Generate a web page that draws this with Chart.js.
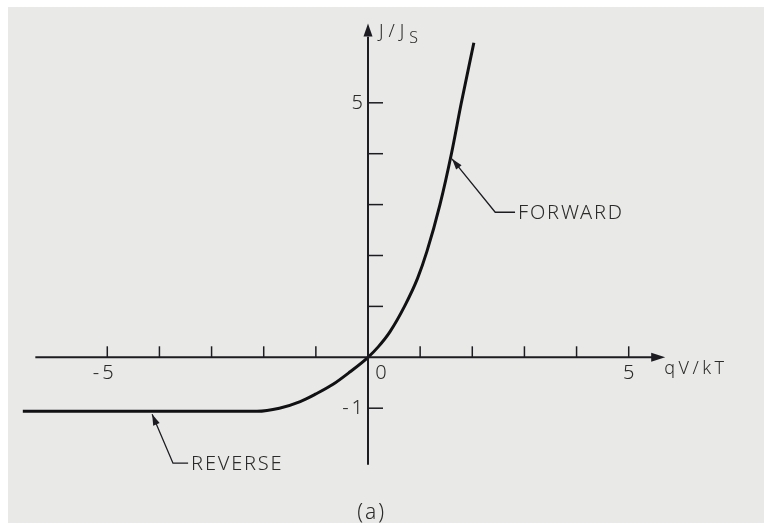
<!DOCTYPE html>
<html>
<head>
<meta charset="utf-8">
<script src="https://cdn.jsdelivr.net/npm/chart.js@4"></script>
<style>
  html, body { margin: 0; padding: 0; background: #ffffff; }
  #wrap { position: relative; width: 764px; height: 523px; }
</style>
</head>
<body>
<div id="wrap"><canvas id="stage"></canvas></div>
<script>
// diode curve J/Js against qV/kT
const qV = [-6.62, -4.5, -2.13, -1.7, -1.3, -1.0, -0.67, -0.35, 0, 0.2, 0.42, 0.71, 0.95, 1.13, 1.38, 1.6, 1.79, 2.03];
const jRatio = [-1.06, -1.06, -1.06, -1.0, -0.87, -0.72, -0.53, -0.29, 0, 0.21, 0.5, 1.02, 1.55, 2.08, 3.0, 4.0, 5.0, 6.18];

// tick marks and the few labelled ones
const xTicks = [-5, -4, -3, -2, -1, 1, 2, 3, 4, 5];
const yTicks = [-1, 1, 2, 3, 4, 5];
const xTickLabels = [['-5', -5], ['0', 0.25], ['5', 5]];
const yTickLabels = [['5', 5], ['-1', -1]];

const ink = '#1c1c22';
const textInk = '#2b2b2b';
const family = '"Noto Sans", "DejaVu Sans", sans-serif';

function setFont(ctx, size, spacing) {
  ctx.font = '300 ' + size + 'px ' + family;
  ctx.letterSpacing = (spacing || 0) + 'px';
}

function arrowHead(ctx, x1, y1, x2, y2, len, half) {
  // filled triangle pointing from (x1,y1) to (x2,y2)
  var a = Math.atan2(y2 - y1, x2 - x1);
  ctx.beginPath();
  ctx.moveTo(x2, y2);
  ctx.lineTo(x2 - len * Math.cos(a) + half * Math.sin(a), y2 - len * Math.sin(a) - half * Math.cos(a));
  ctx.lineTo(x2 - len * Math.cos(a) - half * Math.sin(a), y2 - len * Math.sin(a) + half * Math.cos(a));
  ctx.closePath();
  ctx.fill();
}

// paper background
const paper = {
  id: 'paper',
  beforeDraw(chart) {
    var ctx = chart.ctx;
    ctx.save();
    ctx.fillStyle = '#ffffff';
    ctx.fillRect(0, 0, chart.width, chart.height);
    ctx.fillStyle = '#e9e9e7';
    ctx.fillRect(8, 7, chart.width - 8, chart.height - 7);
    ctx.restore();
  }
};

// axes through the origin, ticks, labels, callouts
const crossAxes = {
  id: 'crossAxes',
  afterDatasetsDraw(chart) {
    var ctx = chart.ctx;
    var xs = chart.scales.x, ys = chart.scales.y;
    var x0 = xs.getPixelForValue(0), y0 = ys.getPixelForValue(0);
    ctx.save();
    ctx.strokeStyle = ink;
    ctx.fillStyle = ink;

    // x axis
    ctx.lineWidth = 2;
    ctx.beginPath();
    ctx.moveTo(xs.getPixelForValue(-6.38), y0);
    ctx.lineTo(xs.getPixelForValue(5.5), y0);
    ctx.stroke();
    arrowHead(ctx, x0, y0, xs.getPixelForValue(5.7), y0, 14, 4.5);

    // y axis
    ctx.beginPath();
    ctx.moveTo(x0, ys.getPixelForValue(-2.11));
    ctx.lineTo(x0, ys.getPixelForValue(6.3));
    ctx.stroke();
    arrowHead(ctx, x0, y0, x0, ys.getPixelForValue(6.56), 13, 4.5);

    // tick marks
    ctx.lineWidth = 1.5;
    xTicks.forEach(function(v) {
      var px = xs.getPixelForValue(v);
      ctx.beginPath();
      ctx.moveTo(px, y0);
      ctx.lineTo(px, y0 - 11);
      ctx.stroke();
    });
    yTicks.forEach(function(v) {
      var py = ys.getPixelForValue(v);
      ctx.beginPath();
      ctx.moveTo(x0, py);
      ctx.lineTo(x0 + 15, py);
      ctx.stroke();
    });

    // tick labels
    ctx.fillStyle = textInk;
    ctx.textBaseline = 'middle';
    ctx.textAlign = 'center';
    setFont(ctx, 20, 3);
    xTickLabels.forEach(function(t) {
      var px = xs.getPixelForValue(t[1]);
      if (t[0] == '-5') px -= 4;
      ctx.fillText(t[0], px + 1.5, y0 + 16);
    });
    ctx.textAlign = 'right';
    yTickLabels.forEach(function(t) {
      ctx.fillText(t[0], x0 - 2, ys.getPixelForValue(t[1]));
    });

    // axis titles
    ctx.textAlign = 'left';
    setFont(ctx, 18, 3.5);
    ctx.fillText('qV/kT', xs.getPixelForValue(5.68), y0 + 12);
    var ty = ys.getPixelForValue(6.4);
    setFont(ctx, 18, 5);
    ctx.fillText('J/J', x0 + 11, ty);
    var w = ctx.measureText('J/J').width;
    setFont(ctx, 16, 0);
    ctx.fillText('S', x0 + 11 + w, ty + 7);

    // callouts: tip, elbow, end of the short horizontal
    var callouts = [
      { text: 'FORWARD', tip: [1.61, 3.9], elbow: [2.44, 2.85], end: [2.82, 2.85] },
      { text: 'REVERSE', tip: [-4.14, -1.12], elbow: [-3.74, -2.08], end: [-3.45, -2.08] }
    ];
    ctx.lineWidth = 1.3;
    ctx.strokeStyle = ink;
    setFont(ctx, 20, 1.8);
    callouts.forEach(function(c) {
      var tx = xs.getPixelForValue(c.tip[0]), ty = ys.getPixelForValue(c.tip[1]);
      var ex = xs.getPixelForValue(c.elbow[0]), ey = ys.getPixelForValue(c.elbow[1]);
      var hx = xs.getPixelForValue(c.end[0]);
      ctx.fillStyle = ink;
      ctx.beginPath();
      ctx.moveTo(hx, ey);
      ctx.lineTo(ex, ey);
      ctx.lineTo(tx, ty);
      ctx.stroke();
      arrowHead(ctx, ex, ey, tx, ty, 11, 3.5);
      ctx.fillStyle = textInk;
      ctx.fillText(c.text, hx + 3, ey + 1);
    });

    // panel caption
    ctx.fillStyle = textInk;
    ctx.textAlign = 'center';
    setFont(ctx, 21, 2);
    ctx.fillText('(a)', xs.getPixelForValue(0.05) + 1, ys.getPixelForValue(-3) + 3);
    ctx.restore();
  }
};

const points = qV.map(function(v, i) { return { x: v, y: jRatio[i] }; });

new Chart(document.getElementById('stage'), {
  type: 'scatter',
  data: {
    datasets: [{
      data: points,
      showLine: true,
      borderColor: '#111114',
      borderWidth: 3,
      pointRadius: 0,
      cubicInterpolationMode: 'monotone',
      fill: false
    }]
  },
  options: {
    responsive: true,
    maintainAspectRatio: false,
    animation: false,
    layout: { padding: { left: 3, right: 31, top: 1, bottom: 13 } },
    plugins: { legend: { display: false }, tooltip: { enabled: false } },
    scales: {
      x: { type: 'linear', min: -7, max: 7, display: false },
      y: { type: 'linear', min: -3, max: 7, display: false }
    }
  },
  plugins: [paper, crossAxes]
});
</script>
</body>
</html>
